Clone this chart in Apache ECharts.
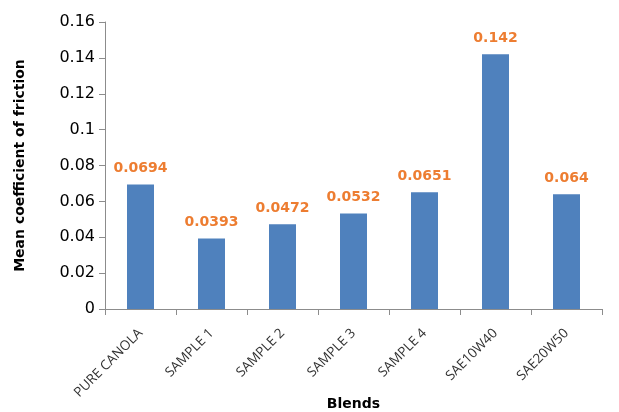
<!DOCTYPE html>
<html>
<head>
<meta charset="utf-8">
<script src="https://cdn.jsdelivr.net/npm/echarts@6/dist/echarts.min.js"></script>
<style>
  html, body { margin: 0; padding: 0; background: #fff; }
  #chart { width: 619px; height: 412px; }
</style>
</head>
<body>
<div id="chart"></div>
<script>
// Friction results per blend
const blends = ['PURE CANOLA', 'SAMPLE 1', 'SAMPLE 2', 'SAMPLE 3', 'SAMPLE 4', 'SAE10W40', 'SAE20W50'];
const frictionValues = [0.0694, 0.0393, 0.0472, 0.0532, 0.0651, 0.142, 0.064];
const valueLabels = ['0.0694', '0.0393', '0.0472', '0.0532', '0.0651', '0.142', '0.064'];

const chart = echarts.init(document.getElementById('chart'), null, { renderer: 'canvas' });
const axisGray = '#8c8c8c';
const font = '"DejaVu Sans", "Open Sans", sans-serif';
const labelFont = '"Open Sans", "DejaVu Sans", sans-serif';

chart.setOption({
  animation: false,
  grid: { left: 105, right: 17, top: 22, bottom: 103, containLabel: false, outerBoundsMode: 'none' },
  xAxis: {
    type: 'category',
    data: blends,
    name: 'Blends',
    nameLocation: 'middle',
    nameGap: 88,
    nameMoveOverlap: false,
    nameTextStyle: { fontFamily: font, fontWeight: 'bold', fontSize: 14, color: '#000' },
    axisLine: { lineStyle: { color: axisGray } },
    axisTick: { show: true, alignWithLabel: false, length: 6, lineStyle: { color: axisGray } },
    axisLabel: { rotate: 45, fontFamily: labelFont, fontSize: 13.5, color: '#333', margin: 22, interval: 0 }
  },
  yAxis: {
    type: 'value',
    min: 0,
    max: 0.16,
    interval: 0.02,
    name: 'Mean coefficient of friction',
    nameLocation: 'middle',
    nameGap: 78,
    nameMoveOverlap: false,
    nameTextStyle: { fontFamily: font, fontWeight: 'bold', fontSize: 14, color: '#000' },
    axisLine: { show: true, lineStyle: { color: axisGray } },
    axisTick: { show: true, length: 6, lineStyle: { color: axisGray } },
    splitLine: { show: false },
    axisLabel: {
      fontFamily: font, fontSize: 16, color: '#000', margin: 10,
      formatter: v => String(Math.round(v * 100) / 100)
    }
  },
  series: [{
    type: 'bar',
    data: frictionValues,
    barWidth: 27,
    itemStyle: { color: '#4f81bd' },
    label: {
      show: true,
      position: 'top',
      distance: 9,
      fontFamily: font,
      fontWeight: 'bold',
      fontSize: 14,
      color: '#ed7d31',
      formatter: p => valueLabels[p.dataIndex]
    }
  }]
});
</script>
</body>
</html>
